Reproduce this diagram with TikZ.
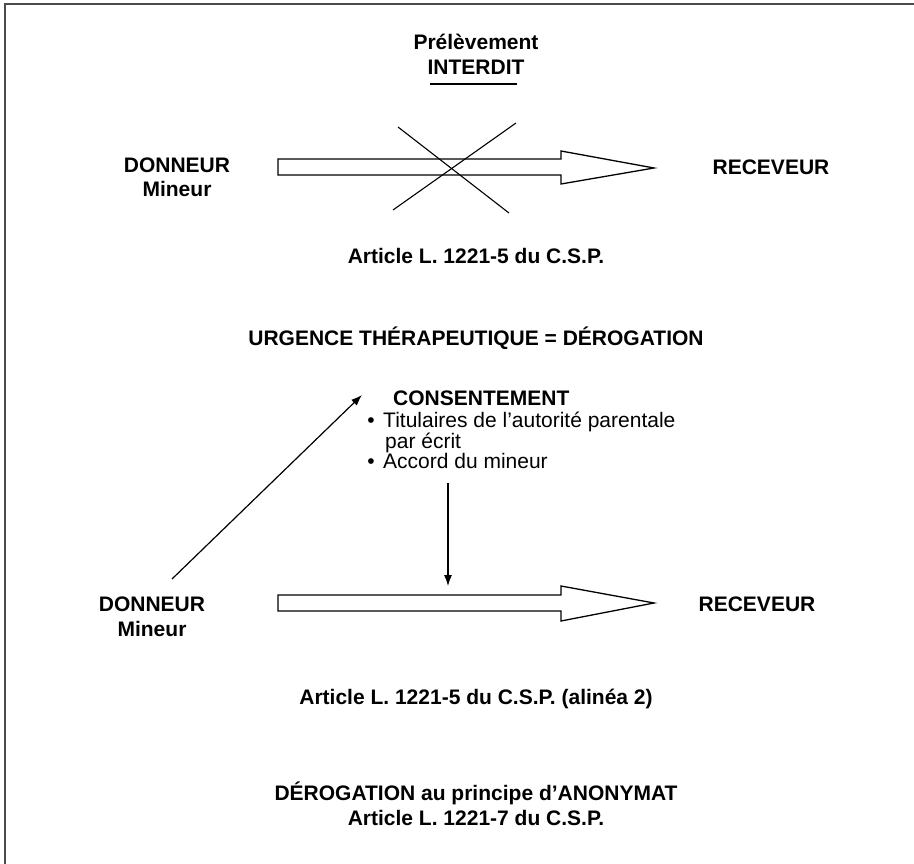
\documentclass[tikz,border=0pt]{standalone}
\usepackage{fontspec}
\setmainfont{Liberation Sans}
\usetikzlibrary{arrows.meta}
\begin{document}
\begin{tikzpicture}[x=1pt,y=-1pt,
  txt/.style={inner sep=0pt,anchor=base,font=\fontsize{21}{25}\selectfont\bfseries},
  rtxt/.style={inner sep=0pt,anchor=base west,font=\fontsize{21}{25}\selectfont},
  btxt/.style={inner sep=0pt,anchor=base west,font=\fontsize{21}{25}\selectfont\bfseries},
  blockarrow/.style={draw=black,fill=white,line width=1.3pt,line join=miter},
  crossline/.style={draw=black,line width=1.1pt},
  thinarrow/.style={draw=black,line width=1.2pt,-{Latex[length=11pt,width=8pt]}},
  frameline/.style={draw=black!70,line width=2pt}]
\useasboundingbox (0,0) rectangle (914,864);
\fill[white] (0,0) rectangle (914,864);
\draw[frameline] (5,864) -- (5,4) -- (914,4);
% top part
\node[txt] (prel) at (476,50) {Prélèvement};
\node[txt] (interdit) at (476,75) {INTERDIT};
\coordinate (ul1) at (430,84); \coordinate (ul2) at (517,84);
\draw[line width=1.3pt] (ul1) -- (ul2);
\draw[blockarrow] (278,159) -- (561,159) -- (561,151) -- (654,168) -- (561,184) -- (561,175) -- (278,175) -- cycle;
\coordinate (xa1) at (398,127); \coordinate (xa2) at (509,213);
\coordinate (xb1) at (516,123); \coordinate (xb2) at (393,210);
\draw[crossline] (xa1) -- (xa2);
\draw[crossline] (xb1) -- (xb2);
\node[txt] (don1) at (177,173) {DONNEUR};
\node[txt] (min1) at (177,197) {Mineur};
\node[txt] (rec1) at (771,175) {RECEVEUR};
\node[txt] (art1) at (476,263) {Article L. 1221-5 du C.S.P.};
\node[txt] (urg) at (476,345) {URGENCE THÉRAPEUTIQUE = DÉROGATION};
% consent
\node[btxt] (cons) at (393,405) {CONSENTEMENT};
\node[rtxt,anchor=base] (bul1) at (371,427) {•};
\node[rtxt] (t1) at (383,427) {Titulaires de l’autorité parentale};
\node[rtxt] (t2) at (385,448) {par écrit};
\node[rtxt,anchor=base] (bul2) at (371,468) {•};
\node[rtxt] (t3) at (383,468) {Accord du mineur};
\coordinate (dstart) at (172,579); \coordinate (dend) at (362,395);
\draw[thinarrow] (dstart) -- (dend);
\coordinate (vstart) at (448,483); \coordinate (vend) at (448,586);
\draw[thinarrow] (vstart) -- (vend);
% bottom arrow
\draw[blockarrow] (278,595) -- (561,595) -- (561,586) -- (654,603) -- (561,621) -- (561,611) -- (278,611) -- cycle;
\node[txt] (don2) at (152,611) {DONNEUR};
\node[txt] (min2) at (152,636) {Mineur};
\node[txt] (rec2) at (757,611) {RECEVEUR};
\node[txt] (art2) at (476,704) {Article L. 1221-5 du C.S.P. (alinéa 2)};
\node[txt] (der) at (476,800) {DÉROGATION au principe d’ANONYMAT};
\node[txt] (art3) at (476,825) {Article L. 1221-7 du C.S.P.};
\end{tikzpicture}
\end{document}
